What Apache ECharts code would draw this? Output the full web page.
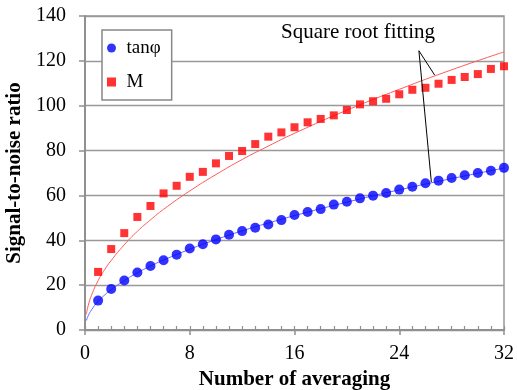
<!DOCTYPE html>
<html><head><meta charset="utf-8">
<script src="https://cdn.jsdelivr.net/npm/echarts@6/dist/echarts.min.js"></script>
<style>html,body{margin:0;padding:0;background:#fff}#c{width:517px;height:390px}</style>
</head><body><div id="c"></div>
<script>
const averages = [1,2,3,4,5,6,7,8,9,10,11,12,13,14,15,16,17,18,19,20,21,22,23,24,25,26,27,28,29,30,31,32];
const tanPhi = [13.1,18.3,22.1,25.6,28.5,31.1,33.6,36.3,38.2,40.4,42.5,44.1,45.6,47.0,49.0,51.3,52.6,53.9,55.9,57.2,58.7,59.9,61.1,62.6,63.9,65.4,66.6,67.8,69.0,70.0,71.0,72.3];
const mValues = [25.9,36.1,43.2,50.4,55.3,60.9,64.3,68.3,70.5,74.3,77.6,79.8,82.9,86.2,88.1,90.4,92.6,94.1,95.7,98.1,100.6,102.0,103.1,105.1,107.1,108.0,109.8,111.5,112.8,114.1,116.4,117.6];
// Fitted curves
const fitX = [0.1,0.25,0.5,1,1.5,2,3,4,5,6,8,10,12,14,16,20,24,28,32];
const fitTan = [4.2,6.4,9.0,12.8,15.6,18.0,22.0,25.5,28.5,31.2,36.0,40.3,44.2,47.7,51.0,57.0,62.5,67.5,72.2];
const fitM = [7.0,11.0,15.5,22.0,26.9,31.0,38.0,44.0,49.1,53.8,62.0,69.3,76.0,82.0,87.7,98.0,107.3,116.0,124.0];
const xTicks = [0,8,16,24,32];
const yTicks = [0,20,40,60,80,100,120,140];
// Annotation pointer lines (data coords)
const pointerFrom = [25.5, 124.5];
const pointerToM = [26.7, 113.7];
const pointerToTan = [26.45, 66.0];

const serif = '"Liberation Serif","DejaVu Serif",serif';
const chart = echarts.init(document.getElementById('c'), null, {renderer:'canvas'});
const pair = (xs, ys) => xs.map((x,i)=>[x, ys[i]]);
chart.setOption({
  animation:false,
  backgroundColor:'#fff',
  grid:{left:85,right:13,top:16,bottom:60,outerBoundsMode:'none',containLabel:false,show:true,borderColor:'#999',borderWidth:1.5,backgroundColor:'transparent'},
  legend:{
    orient:'vertical',left:102,top:30,
    padding:[8,11,8,5],itemGap:14,
    itemWidth:20,itemHeight:9,symbolKeepAspect:true,
    borderColor:'#888',borderWidth:1.5,backgroundColor:'#fff',
    textStyle:{fontFamily:serif,fontSize:19,color:'#000',lineHeight:20},
    data:[{name:'tanφ',icon:'circle'},{name:'M',icon:'path://M0,0h10v10h-10z',itemStyle:{color:'#ff0000'}}]
  },
  xAxis:[{
    type:'value',min:xTicks[0],max:xTicks[xTicks.length-1],interval:8,
    name:'Number of averaging',nameLocation:'middle',nameGap:37,
    nameTextStyle:{fontFamily:serif,fontSize:21,fontWeight:'bold',color:'#000'},
    axisLine:{show:true,lineStyle:{color:'#909090',width:2}},
    axisTick:{show:true,inside:false,length:5,lineStyle:{color:'#909090',width:1.5}},
    axisLabel:{fontFamily:serif,fontSize:20,color:'#000',margin:14},
    splitLine:{show:false}
  },{
    type:'value',min:0,max:32,interval:1,position:'bottom',offset:0,
    axisLine:{show:false},
    axisTick:{show:true,inside:true,length:4,lineStyle:{color:'#909090',width:1.2}},
    axisLabel:{show:false},splitLine:{show:false}
  }],
  yAxis:{
    type:'value',min:yTicks[0],max:yTicks[yTicks.length-1],interval:20,
    name:'Signal-to-noise ratio',nameLocation:'middle',nameGap:53,
    nameTextStyle:{fontFamily:serif,fontSize:21,fontWeight:'bold',color:'#000'},
    axisLine:{show:true,lineStyle:{color:'#909090',width:2}},
    axisTick:{show:true,inside:false,length:6,lineStyle:{color:'#909090',width:1.5}},
    axisLabel:{fontFamily:serif,fontSize:20,color:'#000',margin:19},
    splitLine:{show:true,lineStyle:{color:'#999',width:1.3}}
  },
  graphic:[{type:'text',left:281,top:22,style:{text:'Square root fitting',fontFamily:serif,fontSize:21,fill:'#000'}}],
  series:[
    {name:'fitM',type:'line',smooth:true,showSymbol:false,symbol:'none',data:pair(fitX,fitM),
     lineStyle:{color:'#ff5a5a',width:1},z:1,silent:true,
     markLine:{silent:true,symbol:'none',label:{show:false},lineStyle:{color:'#000',width:1,type:'solid'},
       data:[[{coord:pointerFrom},{coord:pointerToM}],[{coord:pointerFrom},{coord:pointerToTan}]]}},
    {name:'fitTan',type:'line',smooth:true,showSymbol:false,symbol:'none',data:pair(fitX,fitTan),
     lineStyle:{color:'#6a6aff',width:1},z:1,silent:true},
    {name:'tanφ',type:'scatter',symbol:'circle',symbolSize:10,data:pair(averages,tanPhi),
     itemStyle:{color:'#0000ff'},z:3},
    {name:'M',type:'scatter',symbol:'rect',symbolSize:8,data:pair(averages,mValues),
     itemStyle:{color:'#ff0000'},z:3}
  ]
});
</script></body></html>
